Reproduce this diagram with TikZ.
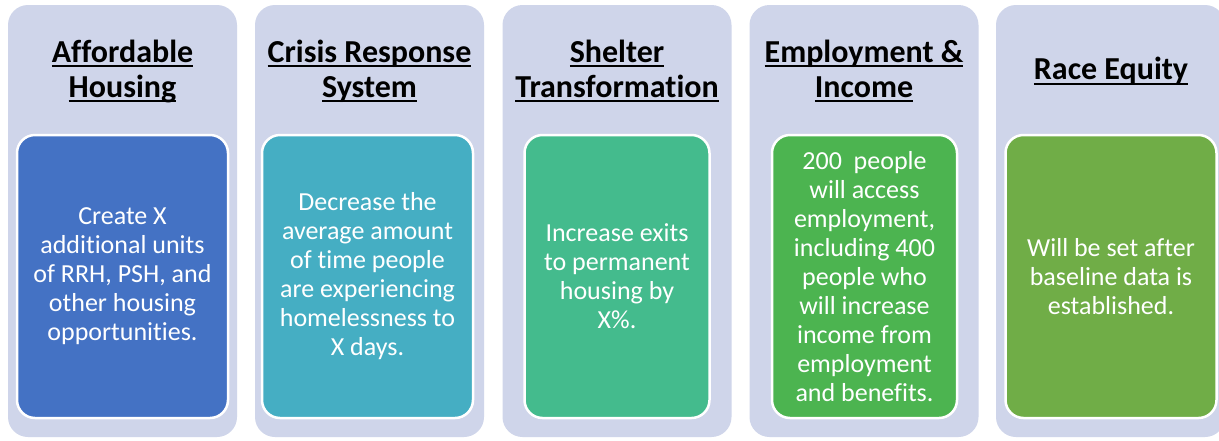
\documentclass[tikz,border=0pt]{standalone}
\usepackage{fontspec}
\setmainfont{Carlito}[Ligatures=NoCommon]
\usetikzlibrary{positioning}
\definecolor{lavender}{HTML}{CFD5EA}
\definecolor{goalblue}{HTML}{4472C4}
\definecolor{goalteal}{HTML}{45AEC3}
\definecolor{goalmint}{HTML}{44BB8D}
\definecolor{goalgreen}{HTML}{4CB450}
\definecolor{goalolive}{HTML}{70AD47}
\newcommand{\ulhead}[1]{\setbox0\hbox{#1}\rlap{\rule[-5pt]{\wd0}{2pt}}\box0}
\tikzset{column/.style={fill=lavender,rounded corners=20pt,minimum width=229pt,minimum height=432pt,inner sep=0pt},head/.style={font=\bfseries\fontsize{32}{35}\selectfont,align=center,text=black,inner sep=0pt},goal/.style={draw=white,line width=2.5pt,rounded corners=18pt,minimum height=283pt,text=white,align=center,font=\fontsize{26}{29}\selectfont,inner sep=0pt},widegoal/.style={goal,minimum width=211pt},narrowgoal/.style={goal,minimum width=185pt}}

\begin{document}
\begin{tikzpicture}[x=1pt,y=-1pt]
\useasboundingbox (0,0) rectangle (1219,440);
\clip (0,0) rectangle (1219,440);
\fill[white] (0,0) rectangle (1219,440);
% columns
\node[column] (colhousing) at (122.5,221) {};
\node[column] (colcrisis) at (369.5,221) {};
\node[column] (colshelter) at (617,221) {};
\node[column] (colemploy) at (864,221) {};
\node[column] (colequity) at (1110.5,221) {};
% headings
\node[head] (headhousing) at (122.5,71) {\ulhead{Affordable}\\\ulhead{Housing}};
\node[head] (headcrisis) at (369.5,71) {\ulhead{Crisis Response}\\\ulhead{System}};
\node[head] (headshelter) at (617,71) {\ulhead{Shelter}\\\ulhead{Transformation}};
\node[head] (heademploy) at (864,71) {\ulhead{Employment \&}\\\ulhead{Income}};
\node[head] (headequity) at (1111,71) {\ulhead{Race Equity}};
% goals
\node[widegoal,fill=goalblue] (housing) at (122.5,276.5) {Create X\\additional units\\of RRH, PSH, and\\other housing\\opportunities.};
\node[widegoal,fill=goalteal] (crisis) at (367.5,276.5) {Decrease the\\average amount\\of time people\\are experiencing\\homelessness to\\X days.};
\node[narrowgoal,fill=goalmint] (shelter) at (617,276.5) {Increase exits\\to permanent\\housing by\\X\%.};
\node[narrowgoal,fill=goalgreen] (employ) at (864.5,276.5) {200~~people\\will access\\employment,\\including 400\\people who\\will increase\\income from\\employment\\and benefits.};
\node[widegoal,fill=goalolive] (equity) at (1111,276.5) {Will be set after\\baseline data is\\established.};
\end{tikzpicture}
\end{document}
